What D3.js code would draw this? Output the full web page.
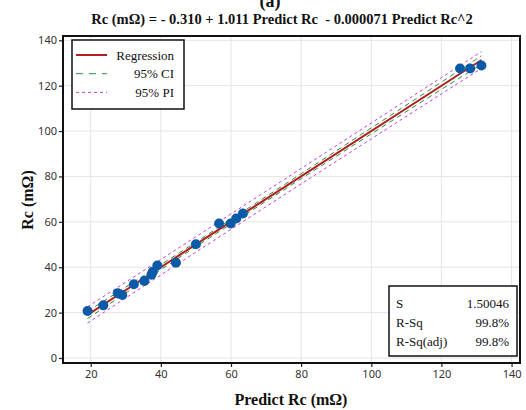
<!DOCTYPE html>
<html>
<head>
<meta charset="utf-8">
<script src="https://cdn.jsdelivr.net/npm/d3@7"></script>
<style>
  body { margin: 0; background: #fff; }
  svg { display: block; }
  .tick text { font-family: "Noto Sans", "Open Sans", sans-serif; font-size: 11px; fill: #333; }
  .serif { font-family: "Liberation Serif", "Times New Roman", serif; fill: #111; }
</style>
</head>
<body>
<svg width="526" height="410"></svg>
<script>
// values
predictRc = [19.1, 23.6, 27.7, 29.0, 32.3, 35.3, 37.3, 37.7, 39.0, 44.3, 50.0, 56.6, 59.9, 61.5, 63.4, 125.3, 128.2, 131.4];
rc        = [20.7, 23.2, 28.5, 27.8, 32.5, 33.9, 36.7, 38.0, 40.8, 42.0, 50.1, 59.3, 59.3, 61.5, 63.7, 127.6, 127.6, 128.9];
coef = [-0.310, 1.011, -0.000071];   // from the fitted equation in the title
bandX  = [19.1, 40, 60, 80, 100, 120, 131.4];
ciHalf = [1.6, 1.1, 1.0, 1.1, 1.3, 1.6, 1.9];
piHalf = [3.6, 3.4, 3.4, 3.4, 3.5, 3.6, 3.7];
xTicks = [20, 40, 60, 80, 100, 120, 140];
yTicks = [0, 20, 40, 60, 80, 100, 120, 140];
stats = [["S", "1.50046"], ["R-Sq", "99.8%"], ["R-Sq(adj)", "99.8%"]];

const svg = d3.select("svg");
const pl = 63, pr = 520, pt = 36, pb = 363;

const x = d3.scaleLinear().domain([12.1, 142.4]).range([pl, pr]);
const y = d3.scaleLinear().domain([-2.2, 141.9]).range([pb, pt]);
const fit = v => coef[0] + coef[1] * v + coef[2] * v * v;

// grid
svg.append("g").selectAll("line").data(xTicks).join("line")
    .attr("x1", d => x(d)).attr("x2", d => x(d))
    .attr("y1", pt).attr("y2", pb)
    .attr("stroke", "#e4e4e4");
svg.append("g").selectAll("line").data(yTicks).join("line")
    .attr("x1", pl).attr("x2", pr)
    .attr("y1", d => y(d)).attr("y2", d => y(d))
    .attr("stroke", "#e4e4e4");

// axes
const xa = svg.append("g").attr("transform", `translate(0,${pb})`)
    .call(d3.axisBottom(x).tickValues(xTicks).tickSize(4).tickPadding(3));
const ya = svg.append("g").attr("transform", `translate(${pl},0)`)
    .call(d3.axisLeft(y).tickValues(yTicks).tickSize(4).tickPadding(2));
xa.select(".domain").remove();
ya.select(".domain").remove();
svg.selectAll(".tick line").attr("stroke", "#222").attr("stroke-width", 1.2);

// bands
const bandLine = (half, sign) => d3.line()
    .x(d => x(d))
    .y((d, i) => y(fit(d) + sign * half[i]))
    .curve(d3.curveMonotoneX)(bandX);

[[piHalf, "#c040e0", "3,3"], [ciHalf, "#2a8a3a", "5,4"]].forEach(([h, c, dash]) => {
  [1, -1].forEach(s => {
    svg.append("path").attr("d", bandLine(h, s))
        .attr("fill", "none").attr("stroke", c)
        .attr("stroke-width", 1).attr("stroke-dasharray", dash);
  });
});

// regression line
const sortedX = predictRc.slice().sort(d3.ascending);
svg.append("path")
    .attr("d", d3.line().x(d => x(d)).y(d => y(fit(d)))(sortedX))
    .attr("fill", "none").attr("stroke", "#b0201c").attr("stroke-width", 2);

// points
svg.append("g").selectAll("circle").data(predictRc).join("circle")
    .attr("cx", d => x(d)).attr("cy", (d, i) => y(rc[i]))
    .attr("r", 5).attr("fill", "#0b5aa8");

// frame
svg.append("rect").attr("x", pl).attr("y", pt)
    .attr("width", pr - pl).attr("height", pb - pt)
    .attr("fill", "none").attr("stroke", "#111").attr("stroke-width", 2);

// titles
svg.append("text").attr("class", "serif").attr("x", 270).attr("y", 7)
    .attr("text-anchor", "middle").attr("font-size", 18).attr("font-weight", "bold")
    .text("(a)");
svg.append("text").attr("class", "serif").attr("x", 282).attr("y", 24)
    .attr("text-anchor", "middle").attr("font-size", 14.5).attr("font-weight", "bold")
    .attr("xml:space", "preserve")
    .text("Rc (mΩ) = - 0.310 + 1.011 Predict Rc  - 0.000071 Predict Rc^2");
svg.append("text").attr("class", "serif").attr("x", 291).attr("y", 405)
    .attr("text-anchor", "middle").attr("font-size", 16).attr("font-weight", "bold")
    .text("Predict Rc (mΩ)");
svg.append("text").attr("class", "serif")
    .attr("transform", "translate(33,200) rotate(-90)")
    .attr("text-anchor", "middle").attr("font-size", 16).attr("font-weight", "bold")
    .text("Rc (mΩ)");

// legend
const lg = svg.append("g");
lg.append("rect").attr("x", 72).attr("y", 40).attr("width", 112).attr("height", 69)
    .attr("fill", "#fff").attr("stroke", "#111").attr("stroke-width", 1.5);
[["Regression", "#b0201c", null, 2], ["95% CI", "#2a8a3a", "7,6", 1], ["95% PI", "#c040e0", "3,3", 1]]
  .forEach(([t, c, dash, w], i) => {
    const yy = 55 + i * 18.7;
    lg.append("line").attr("x1", 76).attr("x2", 107).attr("y1", yy).attr("y2", yy)
        .attr("stroke", c).attr("stroke-width", w).attr("stroke-dasharray", dash);
    lg.append("text").attr("class", "serif").attr("x", 174).attr("y", yy + 4.5)
        .attr("text-anchor", "end").attr("font-size", 13).text(t);
  });

// stats box
const sb = svg.append("g");
sb.append("rect").attr("x", 389).attr("y", 286).attr("width", 128).attr("height", 70)
    .attr("fill", "#fff").attr("stroke", "#111").attr("stroke-width", 1.5);
stats.forEach(([k, v], i) => {
  const yy = 308 + i * 19;
  sb.append("text").attr("class", "serif").attr("x", 396).attr("y", yy)
      .attr("font-size", 13).text(k);
  sb.append("text").attr("class", "serif").attr("x", 509).attr("y", yy)
      .attr("text-anchor", "end").attr("font-size", 13).text(v);
});
</script>
</body>
</html>
